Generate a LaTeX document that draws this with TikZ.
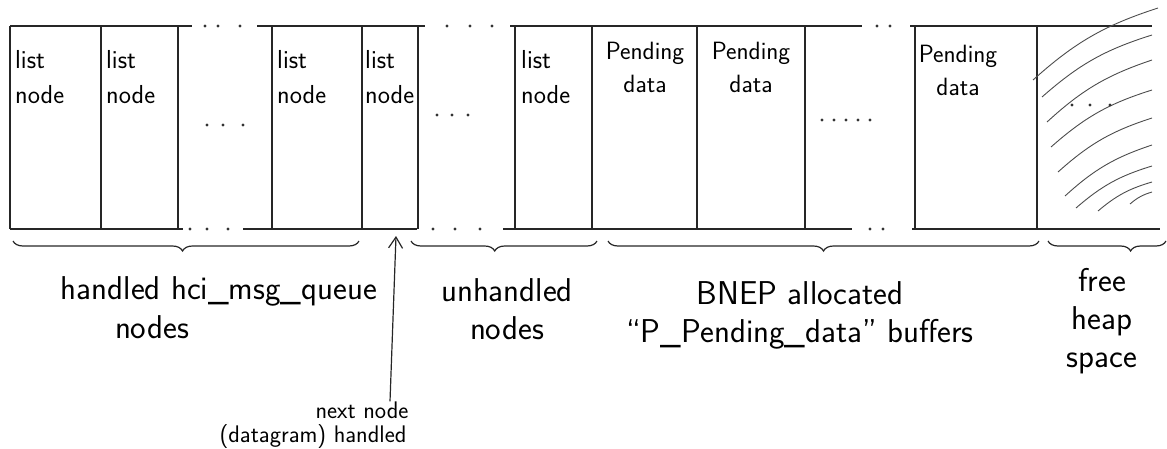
\documentclass[tikz,border=0pt]{standalone}
\usepackage{fontspec}
\usetikzlibrary{decorations.pathreplacing,arrows.meta}
\tikzset{
  pen/.style   = {line width=1.2pt, draw=black!85},
  cellt/.style = {anchor=north west, align=left, inner sep=0pt, font=\fontsize{26}{35}\selectfont\sffamily},
  datat/.style = {anchor=north, align=center, inner sep=0pt, font=\fontsize{25}{33}\selectfont\sffamily},
  note/.style  = {align=center, inner sep=0pt, font=\fontsize{33}{38}\selectfont\sffamily},
  small/.style = {align=center, inner sep=0pt, font=\fontsize{24}{29}\selectfont\sffamily},
  brc/.style   = {pen, decorate, decoration={brace, mirror, amplitude=10pt}},
  hatch/.style = {line width=0.9pt, draw=black!70},
  ptr/.style   = {pen, -{Straight Barb[length=11pt,width=14pt]}}
}
\newcommand{\dotrow}[2]{\foreach \dx in {#1} \fill[black!80] (\dx,#2) circle (1.6pt);}

\begin{document}
\begin{tikzpicture}[x=1pt,y=-1pt]
  \useasboundingbox (0,0) rectangle (1167,448);
  % upper and lower edge of the heap, broken where blocks are left out
  \foreach \a/\b in {10/192, 257/425, 510/862, 910/1152} \draw[pen] (\a,26) -- (\b,26);
  \foreach \a/\b in {10/183, 243/417, 503/852, 912/1160} \draw[pen] (\a,229) -- (\b,229);
  \dotrow{205,218,240,447,470,492,877,890}{26}
  \dotrow{190,207,228,433,455,480,870,883}{229}
  % walls between the blocks
  \foreach \x in {10,101,178,272,362,418,515,592,697,805,915,1037} \draw[pen] (\x,26) -- (\x,229);

  % block contents
  \node[cellt] (ln1) at (15,50)  {list\\node};
  \node[cellt] (ln2) at (106,50) {list\\node};
  \node[cellt] (ln3) at (277,50) {list\\node};
  \node[cellt] (ln4) at (365,50) {list\\node};
  \node[cellt] (ln5) at (521,50) {list\\node};
  \node[datat] (pd1) at (645,42) {Pending\\data};
  \node[datat] (pd2) at (751,42) {Pending\\data};
  \node[datat] (pd3) at (958,45) {Pending\\data};
  \dotrow{207,223,243}{125}
  \dotrow{437,452,468}{115}
  \dotrow{822,834,846,858,870}{120}

  % free heap space, hatched
  \foreach \sx/\sy/\ex/\ey in {1033/80/1158/8, 1042/97/1152/35, 1047/122/1152/60, 1051/147/1152/90,
                              1058/172/1152/118, 1065/196/1152/145, 1076/208/1152/166, 1098/211/1152/182, 1130/204/1152/192}
    \draw[hatch] (\sx,\sy) to[bend left=12] (\ex,\ey);
  \dotrow{1072,1090,1110}{105}

  % groups below the heap
  \draw[brc, decoration={aspect=0.49}] (13,241) -- (359,241);
  \draw[brc, decoration={aspect=0.45}] (411,241) -- (597,241);
  \draw[brc, decoration={aspect=0.50}] (608,241) -- (1039,241);
  \draw[brc, decoration={aspect=0.70}] (1048,241) -- (1166,241);
  \node[note] (hq) at (219,291) {handled hci\_msg\_queue};
  \node[note] (hn) at (152,327) {nodes};
  \node[note] (uh) at (507,309) {unhandled\\nodes};
  \node[note] (bn) at (800,315) {BNEP allocated\\“P\_Pending\_data” buffers};
  \node[note] (fh) at (1102,321) {free\\heap\\space};

  % pointer to the next node
  \node[small] (nx) at (362,410) {next node};
  \node[small] (dg) at (313,437) {(datagram) handled};
  \coordinate (hd) at (396,236);
  \draw[ptr] ([xshift=28pt]nx.north) -- (hd);
\end{tikzpicture}
\end{document}
